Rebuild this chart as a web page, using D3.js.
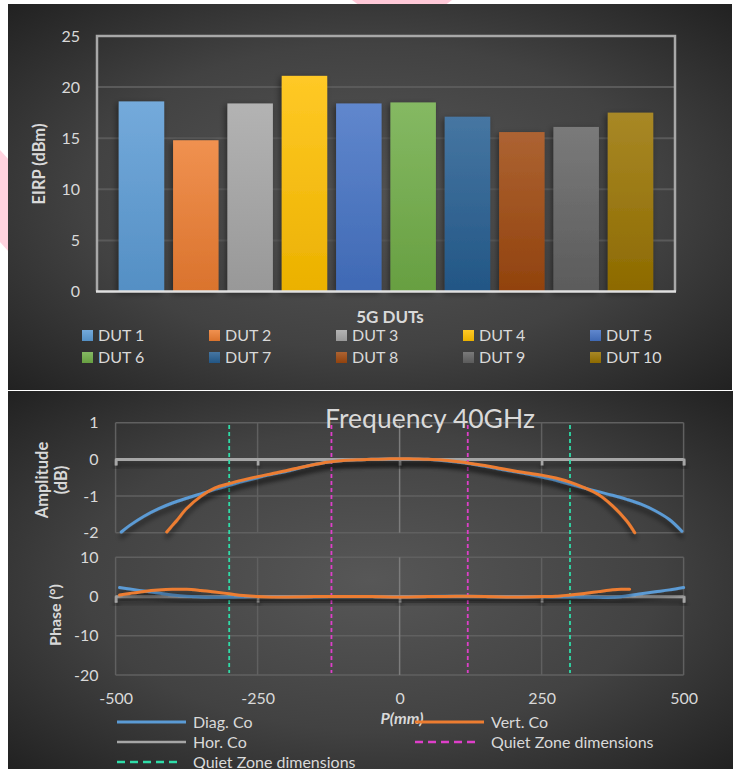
<!DOCTYPE html>
<html><head><meta charset="utf-8">
<script src="https://cdn.jsdelivr.net/npm/d3@7"></script>
<style>body{margin:0;background:#fff}svg{display:block}text{font-family:Lato,"Open Sans",sans-serif}</style>
</head><body><svg id="c" width="739" height="769"></svg>
<script>
// ---------- Top chart data ----------
const duts = ["DUT 1","DUT 2","DUT 3","DUT 4","DUT 5","DUT 6","DUT 7","DUT 8","DUT 9","DUT 10"];
const eirp = [18.6, 14.8, 18.4, 21.1, 18.4, 18.5, 17.1, 15.6, 16.1, 17.5];
const dutColors = ["#5B9BD5","#ED7D31","#A5A5A5","#FFC000","#4472C4","#70AD47","#255E91","#9E480E","#636363","#997300"];
const eirpTicks = [0, 5, 10, 15, 20, 25];

// ---------- Bottom chart data ----------
const diagAmpPos = [-490,-475,-450,-425,-400,-375,-350,-325,-300,-275,-250,-225,-200,-175,-150,-125,-100,-75,-50,-25,0,25,50,75,100,125,150,175,200,225,250,275,300,325,350,375,400,425,450,475,497];
const diagAmp    = [-1.98,-1.80,-1.55,-1.35,-1.19,-1.06,-0.94,-0.82,-0.71,-0.60,-0.50,-0.41,-0.33,-0.23,-0.14,-0.07,-0.03,-0.01,0.0,0.01,0.01,0.01,0.0,-0.03,-0.07,-0.12,-0.19,-0.26,-0.33,-0.40,-0.48,-0.57,-0.68,-0.78,-0.88,-0.98,-1.09,-1.22,-1.40,-1.64,-1.96];
const vertAmpPos = [-410,-400,-392,-375,-350,-325,-300,-275,-250,-225,-200,-175,-150,-125,-100,-75,-50,-25,0,25,50,75,100,125,150,175,200,225,250,275,300,325,350,375,400,414];
const vertAmp    = [-1.98,-1.80,-1.66,-1.34,-1.01,-0.78,-0.66,-0.56,-0.47,-0.39,-0.31,-0.22,-0.14,-0.07,-0.03,-0.01,0.0,0.01,0.02,0.01,0.0,-0.02,-0.06,-0.11,-0.17,-0.24,-0.31,-0.37,-0.43,-0.51,-0.62,-0.77,-0.96,-1.27,-1.68,-2.0];
const diagPhasePos = [-493,-475,-450,-425,-400,-375,-350,-325,-300,-275,-250,-200,-150,-100,-50,0,50,100,150,200,250,275,300,325,350,375,400,425,450,475,500];
const diagPhase    = [2.3,1.9,1.4,0.9,0.4,0.05,-0.1,-0.2,-0.2,-0.1,0.0,-0.05,-0.05,0.0,0.0,-0.05,0.0,0.05,0.0,-0.05,0.0,-0.05,-0.1,-0.2,-0.2,-0.2,0.2,0.7,1.2,1.7,2.3];
const vertPhasePos = [-493,-475,-450,-425,-400,-375,-350,-325,-300,-275,-250,-225,-200,-150,-100,-50,0,50,100,150,200,250,275,300,325,350,375,390,405];
const vertPhase    = [0.4,0.8,1.3,1.65,1.85,1.85,1.55,1.15,0.7,0.25,0.0,-0.1,-0.1,0.0,0.0,0.0,-0.1,0.0,0.05,0.0,-0.1,0.0,0.05,0.4,0.8,1.25,1.7,1.85,1.85];
const horCoPos = [-500, 500];
const horCo = [0, 0];
const quietZoneOuter = [-300, 300];
const quietZoneInner = [-120, 120];
const xTicks = [-500, -250, 0, 250, 500];
const ampTicks = [-2, -1, 0, 1];
const phaseTicks = [-20, -10, 0, 10];

const svg = d3.select("#c");
const defs = svg.append("defs");
const TXT = "#d9d9d9";
const fmt = d => String(d);

// background gradient
const bg = defs.append("radialGradient").attr("id","bg").attr("cx","50%").attr("cy","50%").attr("r","72%");
bg.append("stop").attr("offset","0%").attr("stop-color","#575757");
bg.append("stop").attr("offset","55%").attr("stop-color","#424242");
bg.append("stop").attr("offset","100%").attr("stop-color","#202020");
const sh = defs.append("filter").attr("id","sh").attr("x","-10%").attr("y","-50%").attr("width","120%").attr("height","200%");
sh.append("feDropShadow").attr("dx",0).attr("dy",5).attr("stdDeviation",2.5).attr("flood-color","#000").attr("flood-opacity",0.55);
const shb = defs.append("filter").attr("id","shb").attr("x","-30%").attr("y","-10%").attr("width","160%").attr("height","120%");
shb.append("feDropShadow").attr("dx",-2).attr("dy",2).attr("stdDeviation",3).attr("flood-color","#000").attr("flood-opacity",0.45);

dutColors.forEach((c,i)=>{
  const g = defs.append("linearGradient").attr("id","g"+i).attr("x1",0).attr("y1",0).attr("x2",0).attr("y2",1);
  g.append("stop").attr("offset","0%").attr("stop-color", d3.interpolateRgb(c,"#fff")(0.15));
  g.append("stop").attr("offset","100%").attr("stop-color", d3.interpolateRgb(c,"#000")(0.08));
});

// white background + faint watermark pieces
svg.append("rect").attr("width",739).attr("height",769).attr("fill","#fff");
svg.append("polygon").attr("points","352,0 452,0 444,6 360,6").attr("fill","#ffc9d8");
svg.append("polygon").attr("points","0,150 9,160 9,252 0,242").attr("fill","#ffd3df");

// panels
svg.append("rect").attr("x",8).attr("y",4).attr("width",724).attr("height",386).attr("fill","url(#bg)");
svg.append("rect").attr("x",8).attr("y",391).attr("width",725).attr("height",378).attr("fill","url(#bg)");

// ================= TOP CHART =================
const T = {l:97, r:675, t:36, b:291.5};
const xb = d3.scaleBand().domain(duts).range([T.l, T.r]).paddingInner(0.163).paddingOuter(0.40);
const yb = d3.scaleLinear().domain([0,25]).range([T.b, T.t]);
const topG = svg.append("g");
topG.append("g").selectAll("line").data(eirpTicks.filter(d=>d>0 && d<25)).join("line")
  .attr("x1",T.l).attr("x2",T.r).attr("y1",d=>yb(d)).attr("y2",d=>yb(d))
  .attr("stroke","#5a5a5a").attr("stroke-width",2);
topG.append("g").selectAll("rect").data(eirp).join("rect")
  .attr("x",(d,i)=>xb(duts[i])).attr("width",xb.bandwidth())
  .attr("y",d=>yb(d)).attr("height",d=>yb(0)-yb(d))
  .attr("fill",(d,i)=>`url(#g${i})`).attr("filter","url(#shb)");
// frame
topG.append("path").attr("d",`M${T.l},${yb(0)}V${yb(25)}H${T.r}V${yb(0)}`).attr("fill","none").attr("stroke","#a8a8a8").attr("stroke-width",2.5);
topG.append("line").attr("x1",T.l-1).attr("x2",T.r+1).attr("y1",yb(0)).attr("y2",yb(0)).attr("stroke","#e0e0e0").attr("stroke-width",2.5);
const ya = topG.append("g").attr("transform",`translate(${T.l},0)`)
  .call(d3.axisLeft(yb).tickValues(eirpTicks).tickFormat(fmt).tickSize(0).tickPadding(17));
ya.select(".domain").remove();
ya.selectAll("text").attr("fill",TXT).attr("font-size",16).attr("font-family","Lato");
topG.append("text").attr("transform","translate(45,164) rotate(-90)").attr("text-anchor","middle")
  .attr("fill",TXT).attr("font-size",16.5).attr("font-weight","bold").text("EIRP (dBm)");
topG.append("text").attr("x",390).attr("y",323).attr("text-anchor","middle")
  .attr("fill",TXT).attr("font-size",17).attr("font-weight","bold").text("5G DUTs");
// legend
const lg = topG.append("g").selectAll("g").data(duts).join("g")
  .attr("transform",(d,i)=>`translate(${82 + (i%5)*127},${330 + Math.floor(i/5)*22})`);
lg.append("rect").attr("width",11).attr("height",11).attr("fill",(d,i)=>`url(#g${i})`);
lg.append("text").attr("x",16).attr("y",11).attr("fill",TXT).attr("font-size",16).text(d=>d);

// ================= BOTTOM CHART =================
const B = {l:115.6, r:683.6};
const x = d3.scaleLinear().domain([-500,500]).range([B.l, B.r]);
const yA = d3.scaleLinear().domain([-2,1]).range([532.7, 422.7]);
const yP = d3.scaleLinear().domain([-20,10]).range([675, 557.3]);
const bot = svg.append("g");

function panel(y, ticks){
  const g = bot.append("g");
  g.selectAll("line.h").data(ticks.filter(t=>t!==0)).join("line").attr("class","h")
    .attr("x1",B.l).attr("x2",B.r).attr("y1",d=>y(d)).attr("y2",d=>y(d))
    .attr("stroke","#606060").attr("stroke-width",1.5);
  g.selectAll("line.v").data(xTicks).join("line").attr("class","v")
    .attr("x1",d=>x(d)).attr("x2",d=>x(d)).attr("y1",y(ticks[0])).attr("y2",y(ticks[ticks.length-1]))
    .attr("stroke",d=>d===0?"#7c7c7c":"#606060").attr("stroke-width",1.5);
  const ax = g.append("g").attr("transform",`translate(${B.l},0)`)
    .call(d3.axisLeft(y).tickValues(ticks).tickFormat(fmt).tickSize(0).tickPadding(17));
  ax.select(".domain").remove();
  ax.selectAll("text").attr("fill",TXT).attr("font-size",16).attr("font-family","Lato");
  // horizontal axis at zero
  const xa = g.append("g").attr("transform",`translate(0,${y(0)})`).attr("filter","url(#sh)")
    .call(d3.axisBottom(x).tickValues(xTicks).tickSize(6).tickSizeOuter(6).tickFormat(""));
  xa.selectAll("path,line").attr("stroke","#a6a6a6").attr("stroke-width",2.5);
  return g;
}
panel(yA, ampTicks);
panel(yP, phaseTicks);

// Hor. Co reference series (zero)
[yA,yP].forEach(y=>{
  bot.append("path").datum(horCoPos.map((p,i)=>[p,horCo[i]]))
    .attr("d", d3.line().x(d=>x(d[0])).y(d=>y(d[1])))
    .attr("fill","none").attr("stroke","#a6a6a6").attr("stroke-width",2.5);
});

// Quiet zone lines
const qz = [{v:quietZoneOuter, c:"#2fdca8"},{v:quietZoneInner, c:"#de3fc9"}];
qz.forEach(q=>{
  bot.append("g").selectAll("line").data(q.v).join("line")
    .attr("x1",d=>x(d)).attr("x2",d=>x(d)).attr("y1",425).attr("y2",673)
    .attr("stroke",q.c).attr("stroke-width",1.8).attr("stroke-dasharray","4,3");
});

// curves
const curve = d3.curveCatmullRom.alpha(0.5);
function drawLine(pos, vals, y, color){
  bot.append("path").datum(pos.map((p,i)=>[p,vals[i]]))
    .attr("d", d3.line().curve(curve).x(d=>x(d[0])).y(d=>y(d[1])))
    .attr("fill","none").attr("stroke",color).attr("stroke-width",3)
    .attr("stroke-linecap","round").attr("filter","url(#sh)");
}
drawLine(diagAmpPos, diagAmp, yA, "#5B9BD5");
drawLine(vertAmpPos, vertAmp, yA, "#ED7D31");
drawLine(diagPhasePos, diagPhase, yP, "#5B9BD5");
drawLine(vertPhasePos, vertPhase, yP, "#ED7D31");

// x tick labels
const xl = bot.append("g").attr("transform","translate(0,693)")
  .call(d3.axisBottom(x).tickValues(xTicks).tickFormat(fmt).tickSize(0).tickPadding(0));
xl.select(".domain").remove();
xl.selectAll("text").attr("fill",TXT).attr("font-size",16).attr("font-family","Lato");

// titles
bot.append("text").attr("x",430).attr("y",428).attr("text-anchor","middle")
  .attr("fill",TXT).attr("font-size",26.5).text("Frequency 40GHz");
const at = bot.append("text").attr("transform","translate(0,480) rotate(-90)").attr("text-anchor","middle")
  .attr("fill",TXT).attr("font-size",16.5).attr("font-weight","bold");
at.append("tspan").attr("x",0).attr("y",48).text("Amplitude");
at.append("tspan").attr("x",0).attr("y",67).text("(dB)");
bot.append("text").attr("transform","translate(61,615) rotate(-90)").attr("text-anchor","middle")
  .attr("fill",TXT).attr("font-size",16).attr("font-weight","bold").text("Phase (°)");
bot.append("text").attr("x",402).attr("y",724).attr("text-anchor","middle")
  .attr("fill",TXT).attr("font-size",16).attr("font-weight","bold").attr("font-style","italic").text("P(mm)");

// legend
const legItems = [
  {x:117, y:722, c:"#5B9BD5", dash:null, w:3, t:"Diag. Co"},
  {x:415, y:722, c:"#ED7D31", dash:null, w:3, t:"Vert. Co"},
  {x:117, y:742, c:"#a6a6a6", dash:null, w:2.5, t:"Hor. Co"},
  {x:415, y:742, c:"#de3fc9", dash:"8,5", w:2.5, t:"Quiet Zone dimensions"},
  {x:117, y:762, c:"#2fdca8", dash:"8,5", w:2.5, t:"Quiet Zone dimensions"}
];
const bl = bot.append("g").selectAll("g").data(legItems).join("g")
  .attr("transform",d=>`translate(${d.x},${d.y})`);
bl.append("line").attr("x1",0).attr("x2",d=>d.dash?62:69).attr("stroke",d=>d.c)
  .attr("stroke-width",d=>d.w).attr("stroke-dasharray",d=>d.dash);
bl.append("text").attr("x",76).attr("y",5.5).attr("fill",TXT).attr("font-size",16).text(d=>d.t);
</script></body></html>
